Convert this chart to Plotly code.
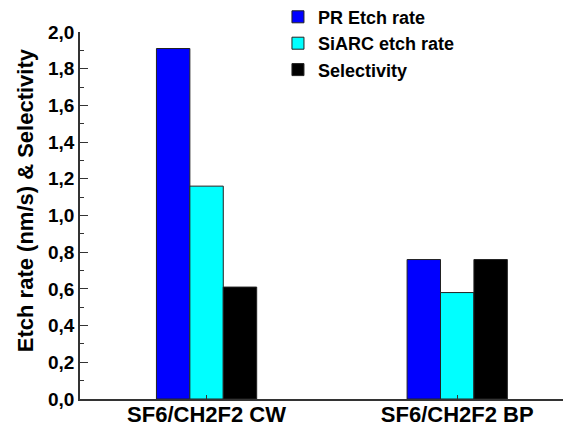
import plotly.graph_objects as go

categories = ["SF6/CH2F2 CW", "SF6/CH2F2 BP"]
series_names = ["PR Etch rate", "SiARC etch rate", "Selectivity"]
pr_etch = [1.91, 0.76]
siarc_etch = [1.16, 0.58]
selectivity = [0.61, 0.76]
y_ticks = [0.0, 0.2, 0.4, 0.6, 0.8, 1.0, 1.2, 1.4, 1.6, 1.8, 2.0]
y_title = "Etch rate (nm/s) & Selectivity"

colors = ["#0000FF", "#00FFFF", "#000000"]
values = [pr_etch, siarc_etch, selectivity]

fig = go.Figure()
for name, vals, col in zip(series_names, values, colors):
    fig.add_trace(go.Bar(
        x=categories, y=vals, name=name,
        marker=dict(color=col, line=dict(color="#222222", width=1)),
    ))

font_family = "Liberation Sans, Arial, sans-serif"
fig.update_layout(
    width=563, height=420,
    margin=dict(l=72, r=1, t=24, b=29, autoexpand=False),
    paper_bgcolor="white", plot_bgcolor="white",
    separators=", ",
    barmode="group", bargap=0.6, bargroupgap=0,
    font=dict(family=font_family, color="black"),
    showlegend=True,
    legend=dict(
        x=0.404, y=1.091, xanchor="left", yanchor="top",
        font=dict(size=18, family=font_family, weight="bold", color="black"),
        bgcolor="rgba(0,0,0,0)", tracegroupgap=0,
    ),
    xaxis=dict(
        type="category", range=[-0.505, 1.45],
        showline=True, linecolor="#333333", linewidth=1.5,
        ticks="inside", ticklen=4, tickcolor="#333333",
        ticklabelstandoff=-5,
        tickfont=dict(size=22, family=font_family, weight="bold", color="black"),
        showgrid=False, zeroline=False,
    ),
    yaxis=dict(
        range=[0, 2.0],
        tickvals=y_ticks, tickformat=".1f",
        showline=True, linecolor="#333333", linewidth=1.5,
        ticks="inside", ticklen=8, tickcolor="#333333",
        minor=dict(dtick=0.1, ticks="inside", ticklen=4, tickcolor="#333333"),
        tickfont=dict(size=19, family=font_family, weight="bold", color="black"),
        showgrid=False, zeroline=False,
    ),
    annotations=[dict(
        text=y_title, xref="paper", yref="paper", x=-0.112, y=0.542,
        xanchor="center", yanchor="middle", textangle=-90, showarrow=False,
        font=dict(size=22, family=font_family, weight="bold", color="black"),
    )],
)

fig.write_html("out.html")
